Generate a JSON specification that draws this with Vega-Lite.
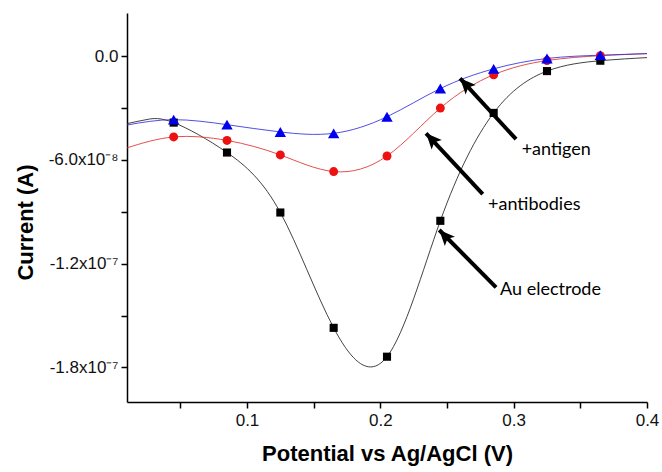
{
  "$schema": "https://vega.github.io/schema/vega-lite/v6.json",
  "autosize": "none",
  "width": 520,
  "height": 389,
  "padding": {"left": 127, "top": 13, "right": 15, "bottom": 70},
  "background": "white",
  "config": {
    "view": {"stroke": null},
    "axis": {"grid": false, "domainColor": "#000", "domainWidth": 1.5, "tickColor": "#000", "tickWidth": 1.5, "tickSize": 6,
      "labelFont": "Liberation Sans", "labelFontSize": 17, "labelColor": "#111",
      "titleFont": "Liberation Sans", "titleFontSize": 22, "titleFontWeight": "bold", "titleColor": "#000"}
  },
  "datasets": {
    "curves": [
      {"series": "Au electrode", "V": 0.01, "I": -3.9e-8, "marker": false},
      {"series": "Au electrode", "V": 0.025, "I": -3.66e-8, "marker": false},
      {"series": "Au electrode", "V": 0.045, "I": -3.84e-8, "marker": true},
      {"series": "Au electrode", "V": 0.085, "I": -5.57e-8, "marker": true},
      {"series": "Au electrode", "V": 0.125, "I": -9.04e-8, "marker": true},
      {"series": "Au electrode", "V": 0.165, "I": -1.571e-7, "marker": true},
      {"series": "Au electrode", "V": 0.205, "I": -1.738e-7, "marker": true},
      {"series": "Au electrode", "V": 0.245, "I": -9.52e-8, "marker": true},
      {"series": "Au electrode", "V": 0.285, "I": -3.28e-8, "marker": true},
      {"series": "Au electrode", "V": 0.325, "I": -8.6e-9, "marker": true},
      {"series": "Au electrode", "V": 0.365, "I": -2.6e-9, "marker": true},
      {"series": "Au electrode", "V": 0.4, "I": -8e-10, "marker": false},
      {"series": "+antibodies", "V": 0.01, "I": -5.3e-8, "marker": false},
      {"series": "+antibodies", "V": 0.045, "I": -4.67e-8, "marker": true},
      {"series": "+antibodies", "V": 0.085, "I": -4.87e-8, "marker": true},
      {"series": "+antibodies", "V": 0.125, "I": -5.71e-8, "marker": true},
      {"series": "+antibodies", "V": 0.165, "I": -6.67e-8, "marker": true},
      {"series": "+antibodies", "V": 0.205, "I": -5.77e-8, "marker": true},
      {"series": "+antibodies", "V": 0.245, "I": -3.0e-8, "marker": true},
      {"series": "+antibodies", "V": 0.285, "I": -1.07e-8, "marker": true},
      {"series": "+antibodies", "V": 0.325, "I": -2.5e-9, "marker": true},
      {"series": "+antibodies", "V": 0.365, "I": 3e-10, "marker": true},
      {"series": "+antibodies", "V": 0.4, "I": 1.5e-9, "marker": false},
      {"series": "+antigen", "V": 0.01, "I": -3.98e-8, "marker": false},
      {"series": "+antigen", "V": 0.045, "I": -3.67e-8, "marker": true},
      {"series": "+antigen", "V": 0.085, "I": -3.96e-8, "marker": true},
      {"series": "+antigen", "V": 0.125, "I": -4.38e-8, "marker": true},
      {"series": "+antigen", "V": 0.165, "I": -4.46e-8, "marker": true},
      {"series": "+antigen", "V": 0.205, "I": -3.5e-8, "marker": true},
      {"series": "+antigen", "V": 0.245, "I": -1.87e-8, "marker": true},
      {"series": "+antigen", "V": 0.285, "I": -7.3e-9, "marker": true},
      {"series": "+antigen", "V": 0.325, "I": -1.3e-9, "marker": true},
      {"series": "+antigen", "V": 0.365, "I": 6e-10, "marker": true},
      {"series": "+antigen", "V": 0.4, "I": 1.5e-9, "marker": false}
    ],
    "arrows": [
      {"label": "+antigen", "tx": 0.3018, "ty": -4.8e-8, "hx": 0.2598, "hy": -1.28e-8, "lx": 0.306, "ly": -5.42e-8},
      {"label": "+antibodies", "tx": 0.2768, "ty": -7.97e-8, "hx": 0.2343, "hy": -4.46e-8, "lx": 0.2808, "ly": -8.6e-8},
      {"label": "Au electrode", "tx": 0.2868, "ty": -1.337e-7, "hx": 0.2442, "hy": -1.005e-7, "lx": 0.2898, "ly": -1.352e-7}
    ]
  },
  "layer": [
    {
      "data": {"name": "curves"},
      "mark": {"type": "line", "interpolate": "natural", "strokeWidth": 1, "opacity": 0.85},
      "encoding": {
        "x": {"field": "V", "type": "quantitative", "scale": {"domain": [0.01, 0.4], "nice": false, "zero": false},
          "axis": {"title": "Potential vs Ag/AgCl (V)", "values": [0.05, 0.1, 0.15, 0.2, 0.25, 0.3, 0.35, 0.4],
            "labelExpr": "abs(datum.value * 10 - round(datum.value * 10)) < 0.000001 ? format(datum.value, '.1f') : ''",
            "labelPadding": 4, "titlePadding": 15, "labelFlush": false}},
        "y": {"field": "I", "type": "quantitative", "scale": {"domain": [-2.0e-7, 2.5e-8], "nice": false, "zero": false},
          "axis": {"title": "Current (A)", "values": [0, -3e-8, -6e-8, -9e-8, -1.2e-7, -1.5e-7, -1.8e-7],
            "labelExpr": "datum.value > -1e-9 ? '0.0' : abs(datum.value + 6e-8) < 1e-10 ? '-6.0x10⁻⁸' : abs(datum.value + 1.2e-7) < 1e-10 ? '-1.2x10⁻⁷' : abs(datum.value + 1.8e-7) < 1e-10 ? '-1.8x10⁻⁷' : ''",
            "labelPadding": 3, "titleX": -102, "titleY": 209, "titleBaseline": "middle", "titleAngle": -90}},
        "color": {"field": "series", "type": "nominal", "scale": {"domain": ["Au electrode", "+antibodies", "+antigen"], "range": ["#222222", "#e03030", "#3030e0"]}, "legend": null}
      }
    },
    {
      "data": {"name": "curves"},
      "transform": [{"filter": "datum.marker"}],
      "mark": {"type": "point", "filled": true, "opacity": 1},
      "encoding": {
        "x": {"field": "V", "type": "quantitative"},
        "y": {"field": "I", "type": "quantitative"},
        "shape": {"field": "series", "type": "nominal", "scale": {"domain": ["Au electrode", "+antibodies", "+antigen"], "range": ["square", "circle", "triangle-up"]}, "legend": null},
        "size": {"condition": [{"test": "datum.series == '+antigen'", "value": 130}, {"test": "datum.series == '+antibodies'", "value": 80}], "value": 66},
        "color": {"field": "series", "type": "nominal", "scale": {"domain": ["Au electrode", "+antibodies", "+antigen"], "range": ["#000000", "#ee1111", "#0000ee"]}, "legend": null}
      }
    },
    {
      "data": {"name": "arrows"},
      "mark": {"type": "rule", "strokeWidth": 4, "color": "#000"},
      "encoding": {
        "x": {"field": "tx", "type": "quantitative"},
        "y": {"field": "ty", "type": "quantitative"},
        "x2": {"field": "hx"},
        "y2": {"field": "hy"}
      }
    },
    {
      "data": {"name": "arrows"},
      "mark": {"type": "point", "filled": true, "opacity": 1, "color": "#000", "shape": "M0,0L-0.8,1.8L0,1.4L0.8,1.8Z", "size": 300, "angle": 317},
      "encoding": {
        "x": {"field": "hx", "type": "quantitative"},
        "y": {"field": "hy", "type": "quantitative"}
      }
    },
    {
      "data": {"name": "arrows"},
      "mark": {"type": "text", "font": "Lato", "fontSize": 18, "align": "left", "baseline": "middle", "color": "#000"},
      "encoding": {
        "x": {"field": "lx", "type": "quantitative"},
        "y": {"field": "ly", "type": "quantitative"},
        "text": {"field": "label"}
      }
    }
  ],
  "resolve": {"scale": {"color": "independent"}}
}
